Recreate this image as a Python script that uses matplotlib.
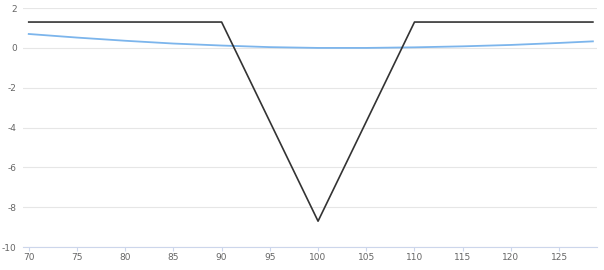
import matplotlib.pyplot as plt

# payoff line (black)
payoff_x = [70, 90, 100, 110, 128.5]
payoff_y = [1.3, 1.3, -8.7, 1.3, 1.3]

# value line (blue)
value_x = [70, 75, 80, 85, 90, 95, 100, 105, 110, 115, 120, 125, 128.5]
value_y = [0.70, 0.52, 0.36, 0.22, 0.12, 0.04, 0.0, 0.0, 0.03, 0.08, 0.15, 0.25, 0.33]

x_ticks = [70, 75, 80, 85, 90, 95, 100, 105, 110, 115, 120, 125]
y_ticks = [2, 0, -2, -4, -6, -8, -10]
y_labels = ['2', '0', '-2', '-4', '-6', '-8', '-10']

fig = plt.figure(figsize=(6.04, 2.7), dpi=100)
ax = fig.add_axes([0.038, 0.085, 0.950, 0.885])

ax.plot(value_x, value_y, color='#7cb5ec', lw=1.3)
ax.plot(payoff_x, payoff_y, color='#333333', lw=1.2)

ax.set_xlim(69.4, 128.9)
ax.set_ylim(-10, 2)
ax.set_xticks(x_ticks)
ax.set_yticks(y_ticks)
ax.set_yticklabels(y_labels)
ax.grid(axis='y', color='#e6e6e6', lw=0.8)
ax.set_axisbelow(True)

for s in ['top', 'right', 'left']:
	ax.spines[s].set_visible(False)
ax.spines['bottom'].set_color('#ccd6eb')
ax.tick_params(axis='x', colors='#ccd6eb', labelcolor='#666666', labelsize=6.5, length=3, width=0.8, pad=1.5)
ax.tick_params(axis='y', length=0, labelcolor='#666666', labelsize=6.5, pad=4.5)

fig.savefig('out.png', dpi=100)
